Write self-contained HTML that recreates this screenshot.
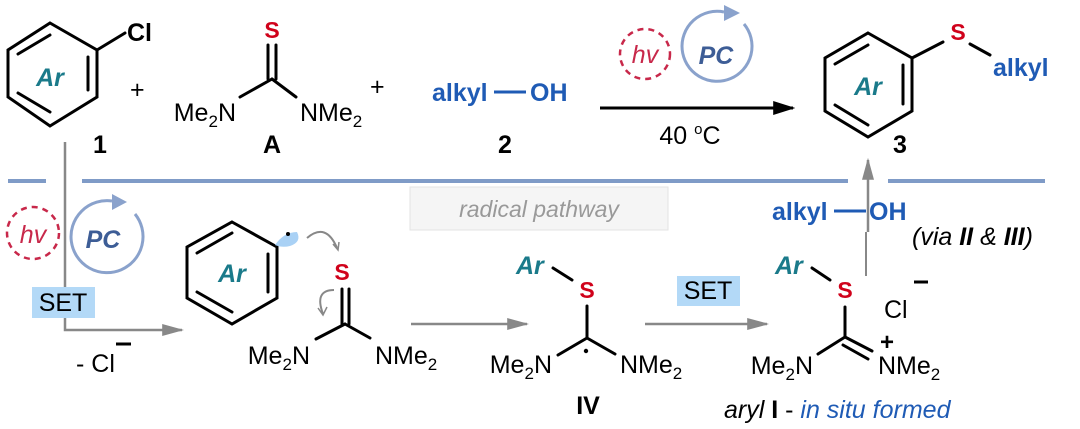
<!DOCTYPE html>
<html><head><meta charset="utf-8"><style>
html,body{margin:0;padding:0;background:#fff;}
svg{display:block;font-family:"Liberation Sans",sans-serif;}
.b{stroke:#000;stroke-width:3;fill:none;stroke-linecap:round}
.ar{fill:#1a7a8a;font-weight:bold;font-style:italic;font-size:25px}
.s{fill:#d0021b;font-weight:bold;font-size:23px}
.t{font-size:25px;fill:#000}
.bl{fill:#1f5bb5;font-weight:bold;font-size:25px}
.n{font-weight:bold;font-size:25px;fill:#000}
</style></head><body>
<svg width="1080" height="429" viewBox="0 0 1080 429" xmlns="http://www.w3.org/2000/svg">
<defs>
<marker id="ab" viewBox="0 0 10 10" markerWidth="22" markerHeight="14" refX="9" refY="5" orient="auto" markerUnits="userSpaceOnUse" preserveAspectRatio="none"><path d="M0,0 L10,5 L0,10 Z" fill="#000"/></marker>
<marker id="ag2" viewBox="0 0 10 10" markerWidth="22" markerHeight="12" refX="9" refY="5" orient="auto" markerUnits="userSpaceOnUse" preserveAspectRatio="none"><path d="M0,0 L10,5 L0,10 Z" fill="#888"/></marker>
</defs>

<g stroke="#7f9bc7" stroke-width="4">
<line x1="8" y1="181" x2="46" y2="181"/><line x1="82" y1="181" x2="848" y2="181"/><line x1="888" y1="181" x2="1045" y2="181"/>
</g>

<!-- compound 1 -->
<path class="b" d="M50,23 L97,50 L97,97 L50,126 L8,97 L8,50 Z"/>
<path class="b" d="M18,54 L50,35 M88,57 L88,90 M18,93 L50,112"/>
<line class="b" x1="97" y1="50" x2="125" y2="33"/>
<text x="127" y="41" class="t" style="font-weight:bold" font-size="23">Cl</text>
<text x="50" y="86" class="ar" text-anchor="middle">Ar</text>
<text x="130" y="98" class="t">+</text>
<text x="100" y="153" class="n" text-anchor="middle">1</text>

<!-- A -->
<text x="272" y="38" class="s" text-anchor="middle">S</text>
<path class="b" d="M268,45 L268,79 M276,45 L276,79 M272,79 L240,97 M272,79 L296,97"/>
<text x="236" y="121" class="t" text-anchor="end">Me<tspan font-size="17" dy="6">2</tspan><tspan dy="-6">N</tspan></text>
<text x="300" y="121" class="t">NMe<tspan font-size="17" dy="6">2</tspan></text>
<text x="370" y="95" class="t">+</text>
<text x="272" y="153" class="n" text-anchor="middle">A</text>

<!-- 2 -->
<text x="432" y="101" class="bl">alkyl</text>
<line x1="494" y1="92" x2="526" y2="92" stroke="#1f5bb5" stroke-width="3"/>
<text x="530" y="101" class="bl">OH</text>
<text x="505" y="153" class="n" text-anchor="middle">2</text>

<!-- top arrow -->
<line x1="600" y1="108" x2="793" y2="108" stroke="#000" stroke-width="3" marker-end="url(#ab)"/>
<circle cx="645" cy="54" r="25" fill="none" stroke="#c8284a" stroke-width="2.5" stroke-dasharray="6,5"/>
<text x="645" y="63" text-anchor="middle" font-size="25" font-style="italic" fill="#c8284a">hv</text>
<path d="M744,24 A35,35 0 1 1 724,12" fill="none" stroke="#8aa2cc" stroke-width="3"/>
<path d="M724,5 L740,13 L724,21 Z" fill="#8aa2cc"/>
<text x="716" y="64" text-anchor="middle" font-size="25" font-weight="bold" font-style="italic" fill="#3d5d96">PC</text>
<text x="690" y="144" class="t" text-anchor="middle">40 <tspan font-size="15" dy="-10">o</tspan><tspan dy="10">C</tspan></text>

<!-- compound 3 -->
<path class="b" d="M868,33 L912,58 L912,111 L868,137 L825,111 L825,58 Z"/>
<path class="b" d="M835,64 L868,45 M903,65 L903,104 M835,105 L868,125"/>
<text x="868" y="95" class="ar" text-anchor="middle">Ar</text>
<line class="b" x1="912" y1="58" x2="943" y2="42"/>
<text x="958" y="40" class="s" text-anchor="middle">S</text>
<line class="b" x1="970" y1="44" x2="990" y2="55"/>
<text x="993" y="76" class="bl" font-size="24">alkyl</text>
<text x="900" y="153" class="n" text-anchor="middle">3</text>
<line x1="868" y1="232" x2="868" y2="160" stroke="#888" stroke-width="2.5" marker-end="url(#ag2)"/>

<!-- left pathway -->
<path d="M65,142 L65,330 L182,330" fill="none" stroke="#888" stroke-width="2.5" marker-end="url(#ag2)"/>
<rect x="410" y="187" width="258" height="43" fill="#f5f5f5" stroke="#e3e3e3"/>
<text x="539" y="217" text-anchor="middle" font-size="23" font-style="italic" fill="#999">radical pathway</text>
<circle cx="33" cy="233" r="26" fill="#fff" stroke="#c8284a" stroke-width="2.5" stroke-dasharray="6,5"/>
<text x="33" y="243" text-anchor="middle" font-size="25" font-style="italic" fill="#c8284a">hv</text>
<path d="M135,214 A36,36 0 1 1 112,201" fill="none" stroke="#8aa2cc" stroke-width="3"/>
<path d="M112,194 L127,202 L112,210 Z" fill="#8aa2cc"/>
<text x="103" y="248" text-anchor="middle" font-size="25" font-weight="bold" font-style="italic" fill="#3d5d96">PC</text>
<rect x="32" y="287" width="63" height="31" fill="#b3d9f7"/>
<text x="63" y="311" class="t" font-size="23" text-anchor="middle">SET</text>
<text x="76" y="372" class="t">- Cl</text>
<line x1="116" y1="344" x2="131" y2="344" stroke="#000" stroke-width="3"/>

<!-- aryl radical -->
<path class="b" d="M232,222 L277,247 L277,298 L232,324 L187,298 L187,247 Z"/>
<path class="b" d="M197,253 L232,233 M268,254 L268,292 M197,292 L232,312"/>
<text x="232" y="282" class="ar" text-anchor="middle">Ar</text>
<path d="M275,245 Q284,232 297,232 Q302,242 290,246 Q282,248 275,245 Z" fill="#a9d1f5"/>
<circle cx="288" cy="234" r="2" fill="#000"/>
<path d="M307,238 Q326,222 337,248" fill="none" stroke="#888" stroke-width="2"/>
<path d="M333,244 L338,250 L339,242" fill="none" stroke="#888" stroke-width="1.5"/>
<path d="M334,290 Q314,290 323,314" fill="none" stroke="#888" stroke-width="2"/>
<path d="M318,308 L323,315 L327,307" fill="none" stroke="#888" stroke-width="1.5"/>
<text x="342" y="280" class="s" text-anchor="middle">S</text>
<path class="b" d="M342,289 L342,324 M349,289 L349,324 M345,324 L316,339 M345,324 L370,338"/>
<text x="310" y="364" class="t" text-anchor="end">Me<tspan font-size="17" dy="6">2</tspan><tspan dy="-6">N</tspan></text>
<text x="375" y="364" class="t">NMe<tspan font-size="17" dy="6">2</tspan></text>

<line x1="411" y1="324" x2="527" y2="324" stroke="#888" stroke-width="2.5" marker-end="url(#ag2)"/>

<!-- IV -->
<text x="516" y="274" class="ar" font-size="24">Ar</text>
<line class="b" x1="553" y1="268" x2="572" y2="280"/>
<text x="587" y="298" class="s" text-anchor="middle">S</text>
<path class="b" d="M587,306 L587,338 M587,338 L558,355 M587,338 L615,354"/>
<circle cx="586" cy="351" r="2.2" fill="#000"/>
<text x="552" y="373" class="t" text-anchor="end">Me<tspan font-size="17" dy="6">2</tspan><tspan dy="-6">N</tspan></text>
<text x="620" y="373" class="t">NMe<tspan font-size="17" dy="6">2</tspan></text>
<text x="588" y="414" class="n" text-anchor="middle">IV</text>

<line x1="645" y1="324" x2="767" y2="324" stroke="#888" stroke-width="2.5" marker-end="url(#ag2)"/>
<rect x="677" y="276" width="63" height="30" fill="#b3d9f7"/>
<text x="708" y="299" class="t" font-size="23" text-anchor="middle">SET</text>

<!-- product I -->
<text x="775" y="274" class="ar" font-size="24">Ar</text>
<line class="b" x1="812" y1="268" x2="830" y2="280"/>
<text x="845" y="298" class="s" text-anchor="middle">S</text>
<path class="b" d="M845,307 L845,337 M845,337 L818,354 M845,337 L872,351 M843,345 L868,359"/>
<text x="887" y="350" font-size="24" font-weight="bold" text-anchor="middle">+</text>
<text x="813" y="374" class="t" text-anchor="end">Me<tspan font-size="17" dy="6">2</tspan><tspan dy="-6">N</tspan></text>
<text x="878" y="374" class="t">NMe<tspan font-size="17" dy="6">2</tspan></text>
<text x="884" y="318" class="t">Cl</text>
<line x1="914" y1="282" x2="928" y2="282" stroke="#000" stroke-width="3"/>
<text x="772" y="220" class="bl">alkyl</text>
<line x1="834" y1="211" x2="866" y2="211" stroke="#1f5bb5" stroke-width="3"/>
<text x="869" y="220" class="bl">OH</text>
<line x1="866" y1="232" x2="866" y2="276" stroke="#888" stroke-width="2"/>
<text x="912" y="245" class="t" font-size="24" font-style="italic">(via <tspan font-weight="bold">II</tspan> &amp; <tspan font-weight="bold">III</tspan>)</text>
<text x="724" y="418" class="t" font-size="24" font-style="italic">aryl <tspan font-style="normal" font-weight="bold">I</tspan><tspan font-style="normal"> - </tspan><tspan fill="#1f5bb5">in situ formed</tspan></text>
</svg>
</body></html>
